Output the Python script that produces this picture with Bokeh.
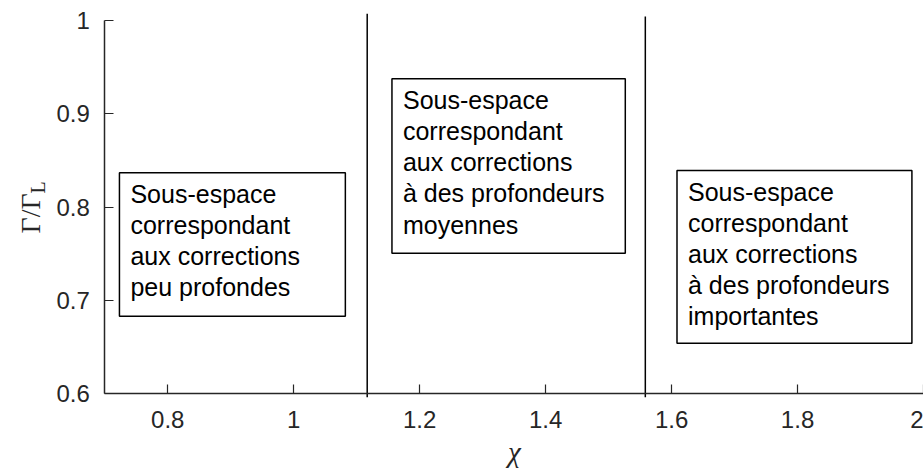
import math
from bokeh.plotting import figure
from bokeh.models import Range1d, FixedTicker
from bokeh.core.properties import value
from bokeh.embed import file_html
from bokeh.resources import INLINE

# ---- data ----
x_ticks = [0.8, 1.0, 1.2, 1.4, 1.6, 1.8, 2.0]
x_tick_labels = ["0.8", "1", "1.2", "1.4", "1.6", "1.8", "2"]
y_ticks = [0.6, 0.7, 0.8, 0.9, 1.0]
y_tick_labels = ["0.6", "0.7", "0.8", "0.9", "1"]

boundary_x = [1.1167, 1.5583]
boundary_y0 = [0.5963, 0.5963]
boundary_y1 = [1.0072, 1.0043]

box_left = [0.7233, 1.156, 1.6086]
box_right = [1.082, 1.5265, 1.9816]
box_top = [0.8368, 0.9375, 0.8392]
box_bottom = [0.683, 0.7506, 0.6541]
box_texts = [
    "Sous-espace\ncorrespondant\naux corrections\npeu profondes",
    "Sous-espace\ncorrespondant\naux corrections\nà des profondeurs\nmoyennes",
    "Sous-espace\ncorrespondant\naux corrections\nà des profondeurs\nimportantes",
]

x_title = "χ"
y_title = "Γ/Γ"
y_title_sub = "L"

AX = "#262626"

# frame fills the whole canvas; axes sit at fixed data locations inside it
p = figure(width=923, height=472, output_backend="svg", toolbar_location=None,
           x_range=Range1d(0.53444, 2.0), y_range=Range1d(0.51565, 1.02144),
           min_border_left=0, min_border_right=0, min_border_top=0,
           min_border_bottom=0)
p.outline_line_color = None
p.grid.visible = False
p.background_fill_color = "white"
p.border_fill_color = "white"

p.xaxis.fixed_location = 0.6
p.yaxis.fixed_location = 0.7
p.xaxis.bounds = (0.7, 2.0)
p.yaxis.bounds = (0.6, 1.0)

for ax, ticks, labels in ((p.xaxis, x_ticks, x_tick_labels), (p.yaxis, y_ticks, y_tick_labels)):
    ax.ticker = FixedTicker(ticks=ticks)
    ax.major_label_overrides = dict(zip(ticks, labels))
    ax.major_tick_in = 9
    ax.major_tick_out = 0
    ax.minor_tick_line_color = None
    ax.axis_line_color = AX
    ax.axis_line_width = 1.5
    ax.major_tick_line_color = AX
    ax.major_tick_line_width = 1.2
    ax.major_label_text_font = "Liberation Sans"
    ax.major_label_text_font_size = "24px"
    ax.major_label_text_color = AX

p.xaxis.major_label_standoff = 17
p.yaxis.major_label_standoff = 15

# boundaries between sub-spaces
p.segment(x0=boundary_x, x1=boundary_x, y0=boundary_y0, y1=boundary_y1,
          line_color="black", line_width=1.5)

# text boxes
p.quad(left=box_left, right=box_right, top=box_top, bottom=box_bottom,
       fill_color="white", line_color="black", line_width=1.5)
p.text(x=box_left, y=box_top, text=box_texts, x_offset=11, y_offset=7,
       text_align="left", text_baseline="top",
       text_font=value("Liberation Sans"), text_font_size="25px",
       text_line_height=1.115, text_color="black")

# axis titles
p.text(x=[1.3503], y=[0.5380], text=[x_title], text_align="center",
       text_baseline="alphabetic", text_font=value("Liberation Serif"),
       text_font_style="italic", text_font_size="29px", text_color=AX)
p.text(x=[0.58206], y=[0.7717], text=[y_title], angle=math.pi / 2,
       text_align="left", text_baseline="alphabetic",
       text_font=value("Liberation Serif"), text_font_size="28px",
       text_color=AX)
p.text(x=[0.59476], y=[0.81458], text=[y_title_sub], angle=math.pi / 2,
       text_align="left", text_baseline="alphabetic",
       text_font=value("Liberation Serif"), text_font_size="20px",
       text_color=AX)

open("out.html", "w").write(file_html(p, INLINE))
